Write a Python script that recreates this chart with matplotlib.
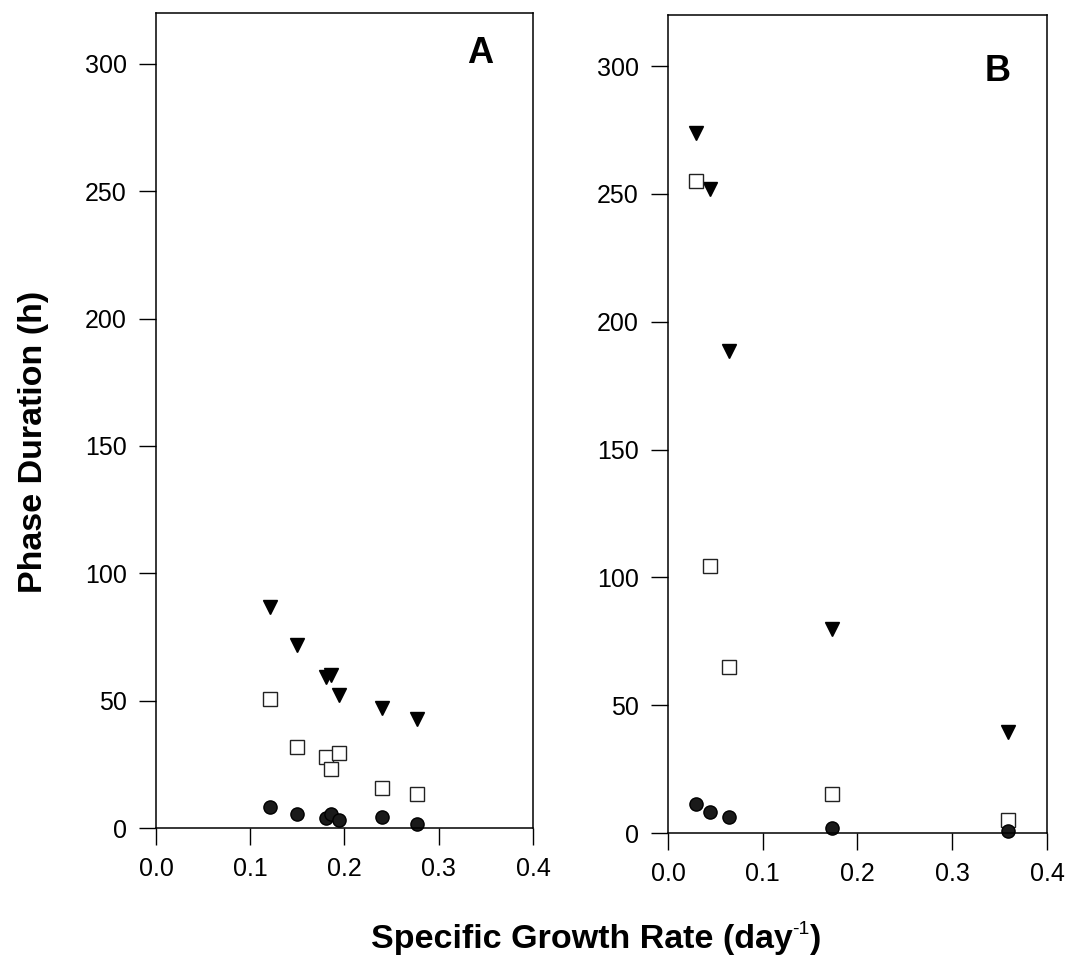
import numpy as np
import matplotlib
matplotlib.use('Agg')
import matplotlib.pyplot as plt

plt.rcParams['font.family'] = ['Liberation Sans', 'DejaVu Sans']

# panel A
a_x = [0.121, 0.150, 0.180, 0.186, 0.194, 0.240, 0.277]
a_tri = [86.8, 71.8, 59.3, 60.0, 52.2, 47.2, 42.7]
a_sq = [50.5, 31.9, 28.0, 23.0, 29.3, 15.8, 13.2]
a_circ = [8.4, 5.5, 4.1, 5.5, 3.1, 4.4, 1.6]

# panel B
b_x = [0.030, 0.044, 0.064, 0.173, 0.359]
b_tri = [274.0, 252.0, 188.5, 79.9, 39.4]
b_sq = [255.0, 104.5, 65.1, 15.1, 5.1]
b_circ = [11.3, 8.3, 6.4, 2.1, 0.9]

x_ticks = [0.0, 0.1, 0.2, 0.3, 0.4]
y_ticks = [0, 50, 100, 150, 200, 250, 300]

fig = plt.figure(figsize=(10.69, 9.69), dpi=100)
ax1 = fig.add_axes([0.1459, 0.1455, 0.3527, 0.8411])
ax2 = fig.add_axes([0.6249, 0.1403, 0.3545, 0.8442])


def draw(ax, xs, tri, sq, circ, label, lx, ly):
    ax.plot(xs, tri, linestyle='none', marker='v', ms=9.5, mfc='black', mec='black', clip_on=False)
    ax.plot(xs, sq, linestyle='none', marker='s', ms=10, mfc='white', mec='#222222', mew=1.0, clip_on=False)
    ax.plot(xs, circ, linestyle='none', marker='o', ms=9.5, mfc='#1a1a1a', mec='black', clip_on=False)
    ax.set_xlim(0, 0.4)
    ax.set_ylim(0, 320)
    ax.set_xticks(x_ticks)
    ax.set_xticklabels(['%.1f' % t for t in x_ticks])
    ax.set_yticks(y_ticks)
    ax.tick_params(direction='out', length=12, width=1, labelsize=18, pad=9)
    for s in ax.spines.values():
        s.set_linewidth(1.1)
    ax.text(lx, ly, label, fontsize=26, fontweight='bold', ha='center', va='center')


draw(ax1, a_x, a_tri, a_sq, a_circ, 'A', 0.344, 304)
draw(ax2, b_x, b_tri, b_sq, b_circ, 'B', 0.348, 298)

fig.text(0.031, 0.544, 'Phase Duration (h)', rotation=90, fontsize=24.5, fontweight='bold',
         ha='center', va='center')

# x label built from pieces so the superscript keeps a plain hyphen
renderer = fig.canvas.get_renderer()
parts = [('Specific Growth Rate (day', 24.5, 0, 'bold'), ('-1', 14, 14, 'normal'), (')', 24.5, 0, 'bold')]
texts = []
for s, fs, dy, fw in parts:
    t = fig.text(0, 0.032, s, fontsize=fs, fontweight=fw, ha='left', va='baseline')
    texts.append((t, dy))
widths = [t.get_window_extent(renderer).width for t, _ in texts]
total = sum(widths)
W = fig.get_figwidth() * fig.dpi
H = fig.get_figheight() * fig.dpi
x0 = 0.5575 * W - total / 2
base = 0.022 * H
for (t, dy), w in zip(texts, widths):
    t.set_position((x0 / W, (base + dy) / H))
    x0 += w

fig.savefig('out.png', dpi=100)
